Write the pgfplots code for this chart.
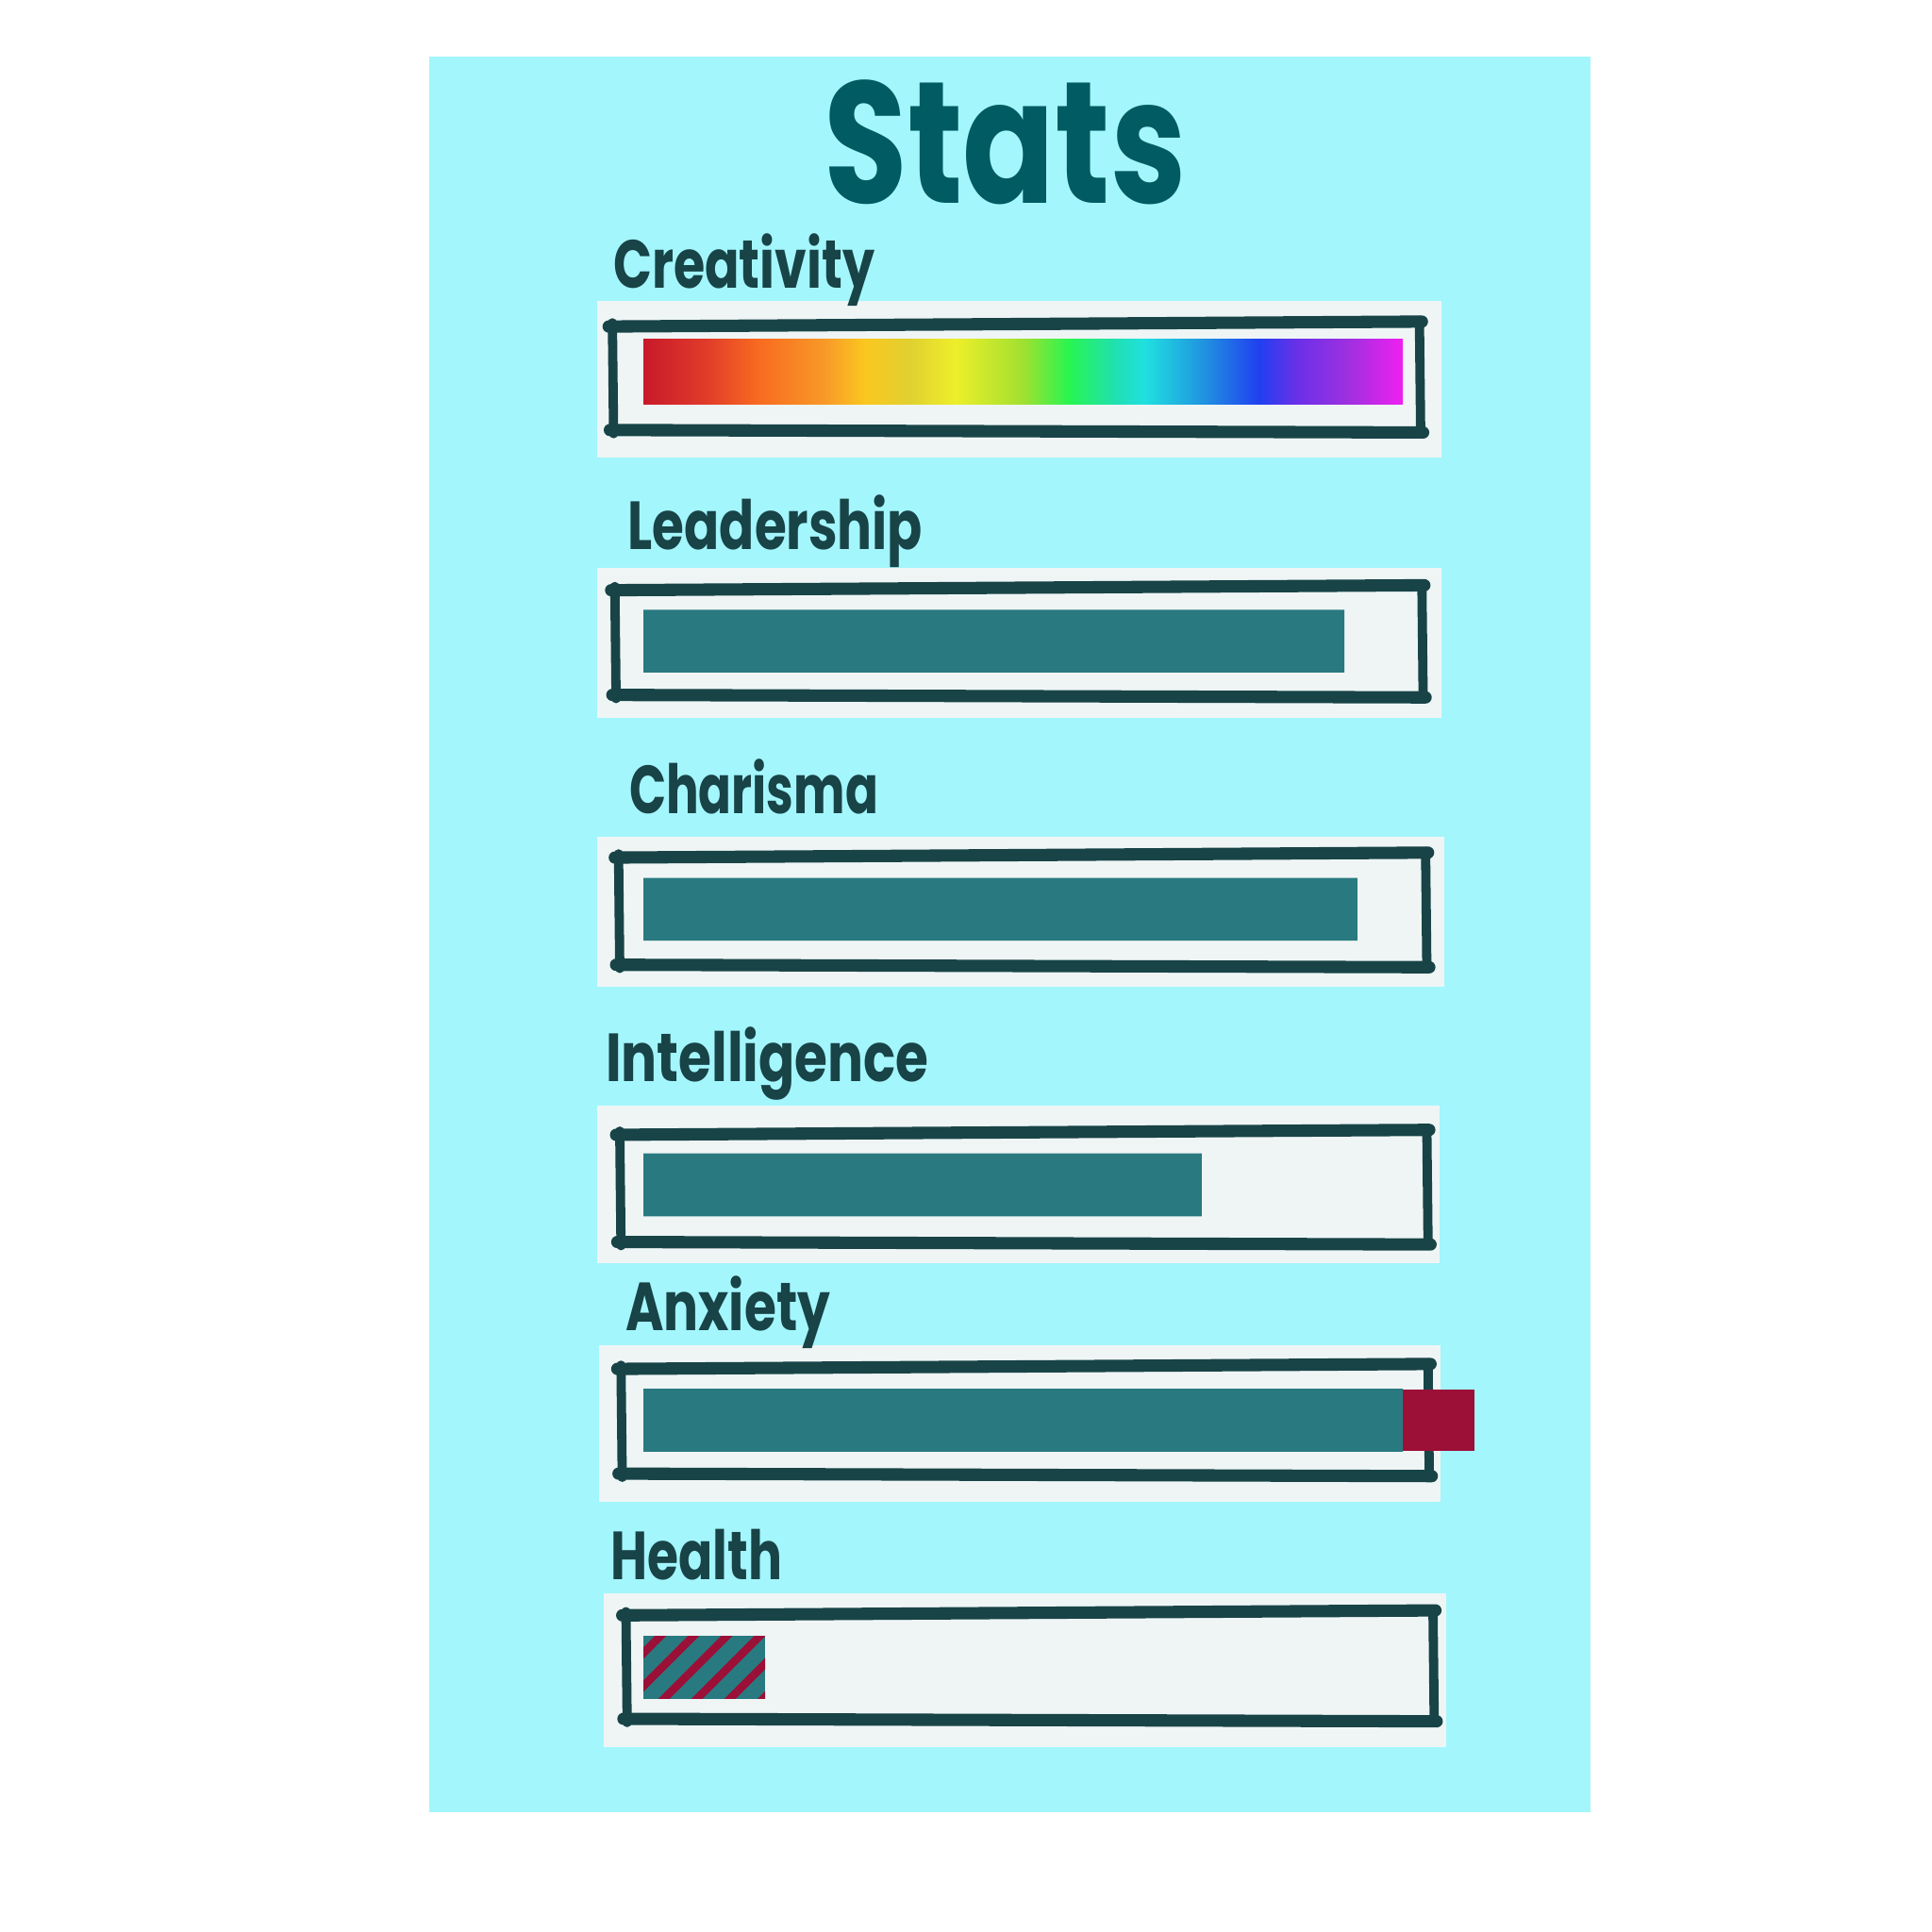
\documentclass[border=0pt]{standalone}
\usepackage{fontspec}
\usepackage{graphicx}
\usepackage{pgfplots}
\pgfplotsset{compat=1.18}
\usetikzlibrary{patterns.meta}
\newfontfamily\handfont{Poppins}
\definecolor{panel}{HTML}{A3F6FC}
\definecolor{boxw}{HTML}{EFF5F5}
\definecolor{framec}{HTML}{184447}
\definecolor{barteal}{HTML}{287A80}
\definecolor{hred}{HTML}{9C0F37}
\definecolor{titlec}{HTML}{015B62}
\definecolor{labc}{HTML}{184347}
\definecolor{rb0}{HTML}{C81A2A}
\definecolor{rb1}{HTML}{E03A2A}
\definecolor{rb2}{HTML}{F86A20}
\definecolor{rb3}{HTML}{F89A28}
\definecolor{rb4}{HTML}{FBC61F}
\definecolor{rb5}{HTML}{E0D030}
\definecolor{rb6}{HTML}{EEEE2A}
\definecolor{rb7}{HTML}{A0E030}
\definecolor{rb8}{HTML}{28F550}
\definecolor{rb9}{HTML}{20E0B0}
\definecolor{rb10}{HTML}{20E0E0}
\definecolor{rb11}{HTML}{2090E0}
\definecolor{rb12}{HTML}{2040F0}
\definecolor{rb13}{HTML}{6A30E8}
\definecolor{rb14}{HTML}{A030E0}
\definecolor{rb15}{HTML}{F020F0}
\pgfdeclarehorizontalshading{rainbow}{100bp}{color(0bp)=(rb0); color(25bp)=(rb0); color(29bp)=(rb1); color(32.5bp)=(rb2); color(37bp)=(rb3); color(39.5bp)=(rb4); color(42.5bp)=(rb5); color(45.5bp)=(rb6); color(50bp)=(rb7); color(53bp)=(rb8); color(56bp)=(rb9); color(58bp)=(rb10); color(62bp)=(rb11); color(65.5bp)=(rb12); color(68bp)=(rb13); color(71.5bp)=(rb14); color(75bp)=(rb15); color(100bp)=(rb15)}
\newcommand\handframe[4]{%
  \draw[framec, line width=0.1cm, line cap=round] ({#1-3},{#2+2}) -- ({#3+2},{#2-2});
  \draw[framec, line width=0.1cm, line cap=round] ({#1-2},{#4-1}) -- ({#3+3},{#4+1});
  \draw[framec, line width=0.075cm, line cap=round] ({#1},{#2-1}) -- ({#1+1},{#4+2});
  \draw[framec, line width=0.075cm, line cap=round] ({#3},{#2-3}) -- ({#3+1},{#4});
}
\newcommand\lab[4]{\node[anchor=base west, inner sep=0pt, text=labc] at (#1,#2) {\resizebox{#3}{\height}{\handfont\bfseries\fontsize{15.7}{18}\selectfont #4}};}
\begin{document}
\begin{tikzpicture}
\begin{scope}[x=0.01cm, y=-0.01cm, yshift=15.68cm]
  \fill[white] (0,0) rectangle (1568,1568);
  \fill[panel] (348,46) rectangle (1291,1471);
  \fill[boxw] (485,244) rectangle (1170,371);
  \fill[boxw] (485,461) rectangle (1170,583);
  \fill[boxw] (485,679) rectangle (1172,801);
  \fill[boxw] (485,897) rectangle (1168,1025);
  \fill[boxw] (486,1092) rectangle (1169,1219);
  \fill[boxw] (490,1293) rectangle (1174,1418);
  \handframe{497}{263}{1152}{350}
  \handframe{499}{477}{1154}{565}
  \handframe{502}{694}{1157}{784}
  \handframe{503}{919}{1158}{1009}
  \handframe{504}{1109}{1159}{1197}
  \handframe{508}{1309}{1163}{1396}
\end{scope}
\begin{axis}[at={(0cm,0cm)}, anchor=south west, scale only axis,
  width=15.68cm, height=15.68cm,
  xmin=-84.7403, xmax=169.8052, ymin=0, ymax=1568, y dir=reverse,
  hide axis, clip=false]
\addplot[xbar, bar width=0.53cm, bar shift=0pt, draw=none, shading=rainbow] coordinates {(100,301.5)};
\addplot[xbar, bar width=0.50cm, bar shift=0pt, draw=none, fill=hred] coordinates {(109.4,1152)};
\addplot[xbar, bar width=0.51cm, bar shift=0pt, draw=none, fill=barteal] coordinates {(92.3,520) (94,737.5) (73.5,961) (100,1152)};
\addplot[xbar, bar width=0.51cm, bar shift=0pt, draw=none, fill=barteal,
  postaction={pattern={Lines[angle=45,distance=0.19cm,line width=0.065cm]}, pattern color=hred}] coordinates {(16,1352.5)};
\end{axis}
\begin{scope}[x=0.01cm, y=-0.01cm, yshift=15.68cm]
  \node[anchor=base west, inner sep=0pt, text=titlec] at (668,165) {\resizebox{2.94cm}{\height}{\handfont\bfseries\fontsize{40}{44}\selectfont Stats}};
  \lab{497}{234}{2.12cm}{Creativity}
  \lab{509}{446}{2.39cm}{Leadership}
  \lab{510}{660}{2.02cm}{Charisma}
  \lab{491}{878}{2.62cm}{Intelligence}
  \lab{507}{1080}{1.66cm}{Anxiety}
  \lab{495}{1282}{1.39cm}{Health}
\end{scope}
\end{tikzpicture}
\end{document}
